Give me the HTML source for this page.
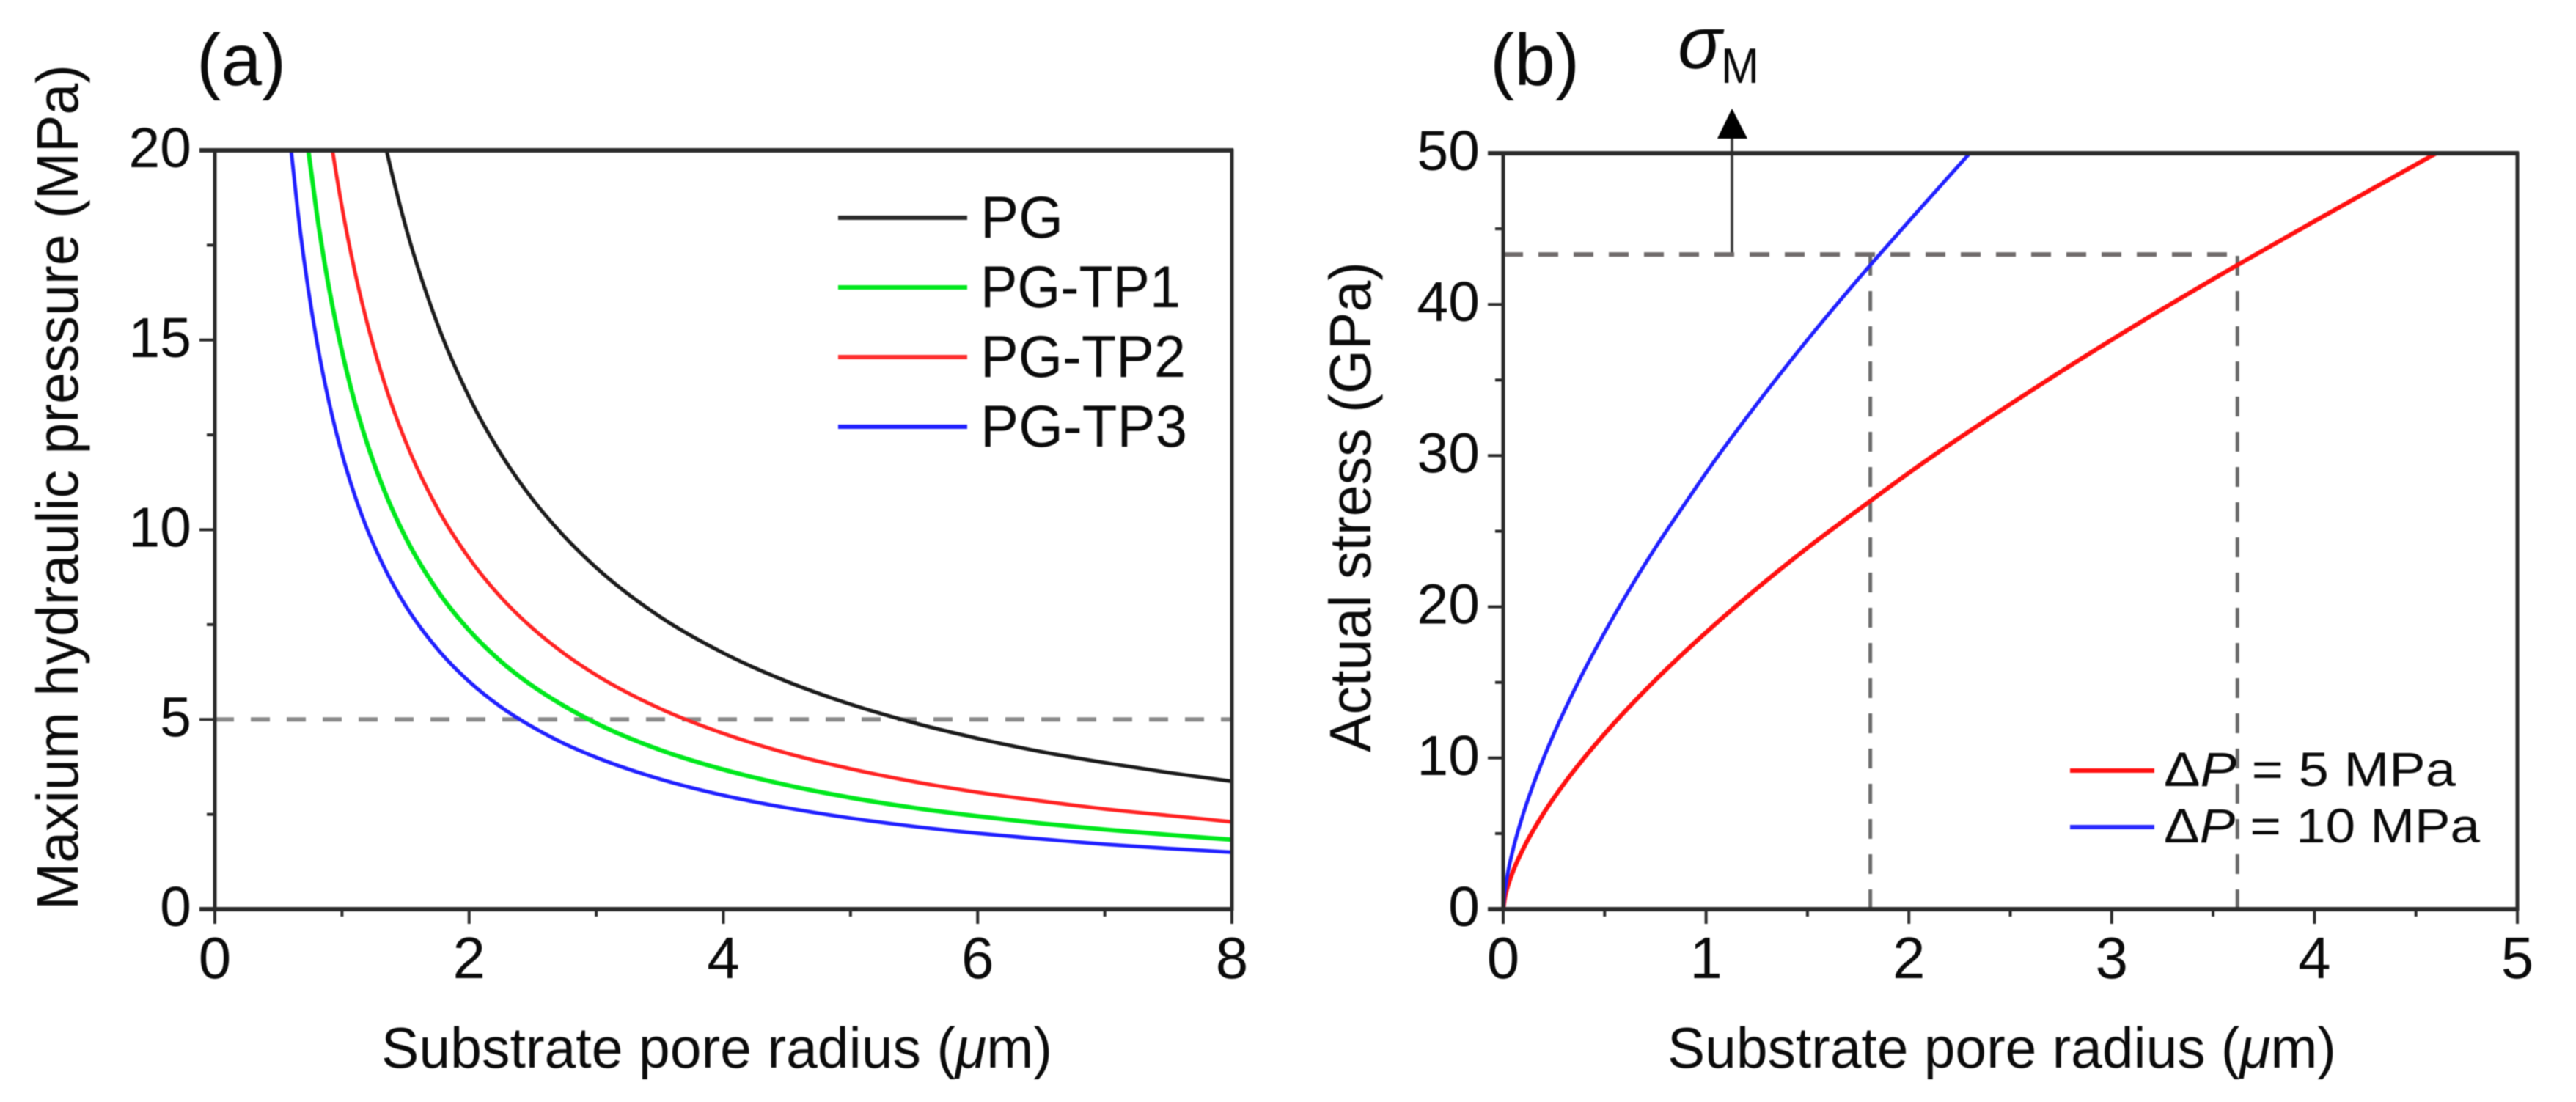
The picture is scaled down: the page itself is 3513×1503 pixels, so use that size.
<!DOCTYPE html>
<html lang="en">
<head>
<meta charset="utf-8">
<title>Hydraulic pressure and actual stress vs substrate pore radius</title>
<style>
html,body{margin:0;padding:0;background:#fff;width:3513px;height:1503px;overflow:hidden}
svg{display:block;filter:blur(0.7px)}
text{font-family:"Liberation Sans",sans-serif;fill:#0a0a0a}
</style>
</head>
<body>
<svg id="figure" xmlns="http://www.w3.org/2000/svg" width="3513" height="1503" viewBox="0 0 3513 1503">
  <rect width="3513" height="1503" fill="#fff"/>
  <g id="panel-a">
    <text x="268" y="116" font-size="100">(a)</text>
    <text x="520" y="1456" font-size="78" textLength="915" lengthAdjust="spacingAndGlyphs">Substrate pore radius (<tspan font-style="italic">μ</tspan>m)</text>
    <text transform="translate(106,1241) rotate(-90)" font-size="80" textLength="1153" lengthAdjust="spacingAndGlyphs">Maxium hydraulic pressure (MPa)</text>
  </g>
  <g id="panel-b">
    <text x="2032" y="116" font-size="100">(b)</text>
    <text x="2274" y="1456" font-size="78" textLength="912" lengthAdjust="spacingAndGlyphs">Substrate pore radius (<tspan font-style="italic">μ</tspan>m)</text>
    <text transform="translate(1869,1026) rotate(-90)" font-size="80" textLength="669" lengthAdjust="spacingAndGlyphs">Actual stress (GPa)</text>
    <text x="2288" y="93" font-size="100" font-style="italic">σ</text>
    <text x="2347" y="113" font-size="68" textLength="52" lengthAdjust="spacingAndGlyphs">M</text>
    <line x1="2362" y1="348" x2="2362" y2="186" stroke="#444" stroke-width="4"/>
    <polygon points="2362,148 2383,189 2342,189" fill="#000"/>
  </g>
</svg>
<script>
// Panel (a) data
const radiusA = [0.6,0.65,0.7,0.735,0.8,0.9,0.925,1,1.1,1.2,1.35,1.5,1.75,2,2.25,2.5,2.75,3,3.5,4,4.5,5,5.5,6,6.5,7,7.5,8];
const pressurePG = [null,null,null,null,null,null,null,null,null,null,20,18,15.43,13.5,12,10.8,9.82,9,7.71,6.75,6,5.4,4.91,4.5,4.15,3.86,3.6,3.37];
const pressureTP1 = [null,null,null,20,18.38,16.33,15.89,14.7,13.36,12.25,10.89,9.8,8.4,7.35,6.53,5.88,5.35,4.9,4.2,3.68,3.27,2.94,2.67,2.45,2.26,2.1,1.96,1.83];
const pressureTP2 = [null,null,null,null,null,null,20,18.5,16.82,15.42,13.7,12.33,10.57,9.25,8.22,7.4,6.73,6.17,5.29,4.63,4.11,3.7,3.36,3.08,2.85,2.64,2.47,2.3];
const pressureTP3 = [20,18.46,17.14,16.33,15,13.33,12.97,12,10.91,10,8.89,8,6.86,6,5.33,4.8,4.36,4,3.43,3,2.67,2.4,2.18,2,1.85,1.71,1.6,1.5];
const referencePressure = [5];
const xTicksA = [0,2,4,6,8];
const xMinorA = [1,3,5,7];
const yTicksA = [0,5,10,15,20];
const yMinorA = [2.5,7.5,12.5,17.5];
const legendLabelsA = ["PG","PG-TP1","PG-TP2","PG-TP3"];

// Panel (b) data
const radiusRed = [0,0.01,0.02,0.05,0.1,0.2,0.3,0.4,0.5,0.75,1,1.25,1.5,1.8,2,2.5,3,3.5,4,4.6];
const stressRed = [0,0.89,1.4,2.56,4.03,6.36,8.3,10.02,11.6,15.15,18.3,21.2,23.9,26.9,28.86,33.4,37.66,41.67,45.5,50];
const radiusBlue = [0,0.005,0.01,0.025,0.05,0.1,0.15,0.2,0.25,0.375,0.5,0.625,0.75,0.9,1,1.25,1.5,1.75,2,2.3];
const stressBlue = [0,0.89,1.4,2.56,4.03,6.36,8.3,10.02,11.6,15.15,18.3,21.2,23.9,26.9,28.86,33.4,37.66,41.67,45.5,50];
const criticalStress = [43.3];
const criticalRadii = [1.81,3.62];
const xTicksB = [0,1,2,3,4,5];
const xMinorB = [0.5,1.5,2.5,3.5,4.5];
const yTicksB = [0,10,20,30,40,50];
const yMinorB = [5,15,25,35,45];

const NS = "http://www.w3.org/2000/svg";
const panelA = document.getElementById("panel-a");
const panelB = document.getElementById("panel-b");

function make(tag, parent, attrs, content) {
  const node = document.createElementNS(NS, tag);
  for (const key in attrs) node.setAttribute(key, attrs[key]);
  if (content !== undefined) node.textContent = content;
  parent.appendChild(node);
  return node;
}
function scale(d0, d1, r0, r1) {
  return v => r0 + (v - d0) * (r1 - r0) / (d1 - d0);
}
const xA = scale(0, 8, 293, 1680);
const yA = scale(0, 20, 1240, 205);
const xB = scale(0, 5, 2050, 3433);
const yB = scale(0, 50, 1240, 209);

// Smooth curve through the data using non-uniform Hermite tangents.
function smoothPath(xs, ys, fx, fy) {
  const p = [];
  xs.forEach((x, i) => { if (ys[i] !== null) p.push([fx(x), fy(ys[i])]); });
  const n = p.length;
  const h = [], s = [];
  for (let i = 0; i < n - 1; i++) {
    h[i] = p[i + 1][0] - p[i][0];
    s[i] = (p[i + 1][1] - p[i][1]) / h[i];
  }
  const m = [];
  for (let i = 0; i < n; i++) {
    if (i === 0) m[i] = s[0] + (s[0] - s[1]) * h[0] / (h[0] + h[1]);
    else if (i === n - 1) m[i] = s[n - 2];
    else m[i] = (h[i - 1] * s[i] + h[i] * s[i - 1]) / (h[i - 1] + h[i]);
  }
  let d = "M" + p[0][0].toFixed(2) + " " + p[0][1].toFixed(2);
  for (let i = 0; i < n - 1; i++) {
    const c1x = p[i][0] + h[i] / 3, c1y = p[i][1] + m[i] * h[i] / 3;
    const c2x = p[i + 1][0] - h[i] / 3, c2y = p[i + 1][1] - m[i + 1] * h[i] / 3;
    d += "C" + [c1x, c1y, c2x, c2y, p[i + 1][0], p[i + 1][1]].map(v => v.toFixed(2)).join(" ");
  }
  return d;
}

function drawAxes(parent, fx, fy, xMajor, xMinor, yMajor, yMinor, suffix) {
  const [l, r] = [fx(xMajor[0]), fx(xMajor[xMajor.length - 1])];
  const [b, t] = [fy(yMajor[0]), fy(yMajor[yMajor.length - 1])];
  const axisColor = "#2b2b2b";
  xMajor.forEach(v => {
    const tick = make("line", parent, {x1: fx(v), x2: fx(v), y1: b, y2: 1260, stroke: axisColor, "stroke-width": 4});
    
    
    const label = make("text", parent, {x: fx(v), y: 1334, "font-size": 80, "text-anchor": "middle"}, String(v));
    
    
  });
  xMinor.forEach(v => {
    const tick = make("line", parent, {x1: fx(v), x2: fx(v), y1: b, y2: 1250, stroke: axisColor, "stroke-width": 4});
    
    
  });
  yMajor.forEach(v => {
    const tick = make("line", parent, {x1: l - 21, x2: l, y1: fy(v), y2: fy(v), stroke: axisColor, "stroke-width": 4});
    
    
    const label = make("text", parent, {x: l - 32, y: fy(v) + 23, "font-size": 77, "text-anchor": "end"}, String(v));
    
    
  });
  yMinor.forEach(v => {
    const tick = make("line", parent, {x1: l - 11, x2: l, y1: fy(v), y2: fy(v), stroke: axisColor, "stroke-width": 4});
    
    
  });
  const left = make("line", parent, {x1: l, x2: l, y1: t - 2, y2: b + 2, stroke: axisColor, "stroke-width": 5});
  
  
  const right = make("line", parent, {x1: r, x2: r, y1: t - 2, y2: b + 2, stroke: axisColor, "stroke-width": 5});
  
  
  const top = make("line", parent, {x1: l - 21, x2: r + 2, y1: t, y2: t, stroke: axisColor, "stroke-width": 6});
  
  
  const bottom = make("line", parent, {x1: l - 21, x2: r + 2, y1: b, y2: b, stroke: axisColor, "stroke-width": 6});
  
  
}

// Panel (a) reference line and curves
referencePressure.forEach(v => {
  const line = make("line", panelA, {x1: xA(0), x2: xA(8), y1: yA(v), y2: yA(v), stroke: "#8a8a8a", "stroke-width": 6, "stroke-dasharray": "26 23"});
  
  
});
const curvePG = make("path", panelA, {d: smoothPath(radiusA, pressurePG, xA, yA), fill: "none", stroke: "#1a1a1a", "stroke-width": 5});


const curveTP1 = make("path", panelA, {d: smoothPath(radiusA, pressureTP1, xA, yA), fill: "none", stroke: "#00e81c", "stroke-width": 6});


const curveTP2 = make("path", panelA, {d: smoothPath(radiusA, pressureTP2, xA, yA), fill: "none", stroke: "#ff2222", "stroke-width": 5});


const curveTP3 = make("path", panelA, {d: smoothPath(radiusA, pressureTP3, xA, yA), fill: "none", stroke: "#1f1fff", "stroke-width": 5});


drawAxes(panelA, xA, yA, xTicksA, xMinorA, yTicksA, yMinorA, "a");

// Panel (a) legend
const legendColorsA = ["#2a2a2a", "#00e81c", "#ff2f2f", "#1f1fff"];
const legendTextLengthsA = [113, 273, 280, 282];
legendLabelsA.forEach((name, i) => {
  const rowY = 297 + i * 95;
  const swatch = make("line", panelA, {x1: 1143, x2: 1319, y1: rowY, y2: rowY, stroke: legendColorsA[i], "stroke-width": 6});
  
  
  const label = make("text", panelA, {x: 1337, y: rowY + 27, "font-size": 81, textLength: legendTextLengthsA[i], lengthAdjust: "spacingAndGlyphs"}, name);
  
  
});

// Panel (b) guide lines and curves
criticalStress.forEach(v => {
  const line = make("line", panelB, {x1: xB(0), x2: xB(criticalRadii[1]), y1: yB(v), y2: yB(v), stroke: "#6f6a6a", "stroke-width": 6, "stroke-dasharray": "27 21"});
  
  
});
criticalRadii.forEach(v => {
  const line = make("line", panelB, {x1: xB(v), x2: xB(v), y1: yB(0), y2: yB(criticalStress[0]), stroke: "#6a6a6a", "stroke-width": 5, "stroke-dasharray": "27 21"});
  
  
});
const curveRed = make("path", panelB, {d: smoothPath(radiusRed, stressRed, xB, yB), fill: "none", stroke: "#ff0f0f", "stroke-width": 6});


const curveBlue = make("path", panelB, {d: smoothPath(radiusBlue, stressBlue, xB, yB), fill: "none", stroke: "#1f1fff", "stroke-width": 5});


drawAxes(panelB, xB, yB, xTicksB, xMinorB, yTicksB, yMinorB, "b");

// Panel (b) legend
const legendPressures = ["5", "10"];
const legendColorsB = ["#ff0f0f", "#2a2aff"];
const legendTextLengthsB = [398, 431];
legendPressures.forEach((value, i) => {
  const rowY = 1051 + i * 77;
  const swatch = make("line", panelB, {x1: 2823, x2: 2938, y1: rowY, y2: rowY, stroke: legendColorsB[i], "stroke-width": 6});
  
  
  const label = make("text", panelB, {x: 2951, y: rowY + 21, "font-size": 66, textLength: legendTextLengthsB[i], lengthAdjust: "spacingAndGlyphs"});
  
  
  make("tspan", label, {}, "Δ");
  make("tspan", label, {"font-style": "italic"}, "P");
  make("tspan", label, {}, " = " + value + " MPa");
});
</script>
</body>
</html>
